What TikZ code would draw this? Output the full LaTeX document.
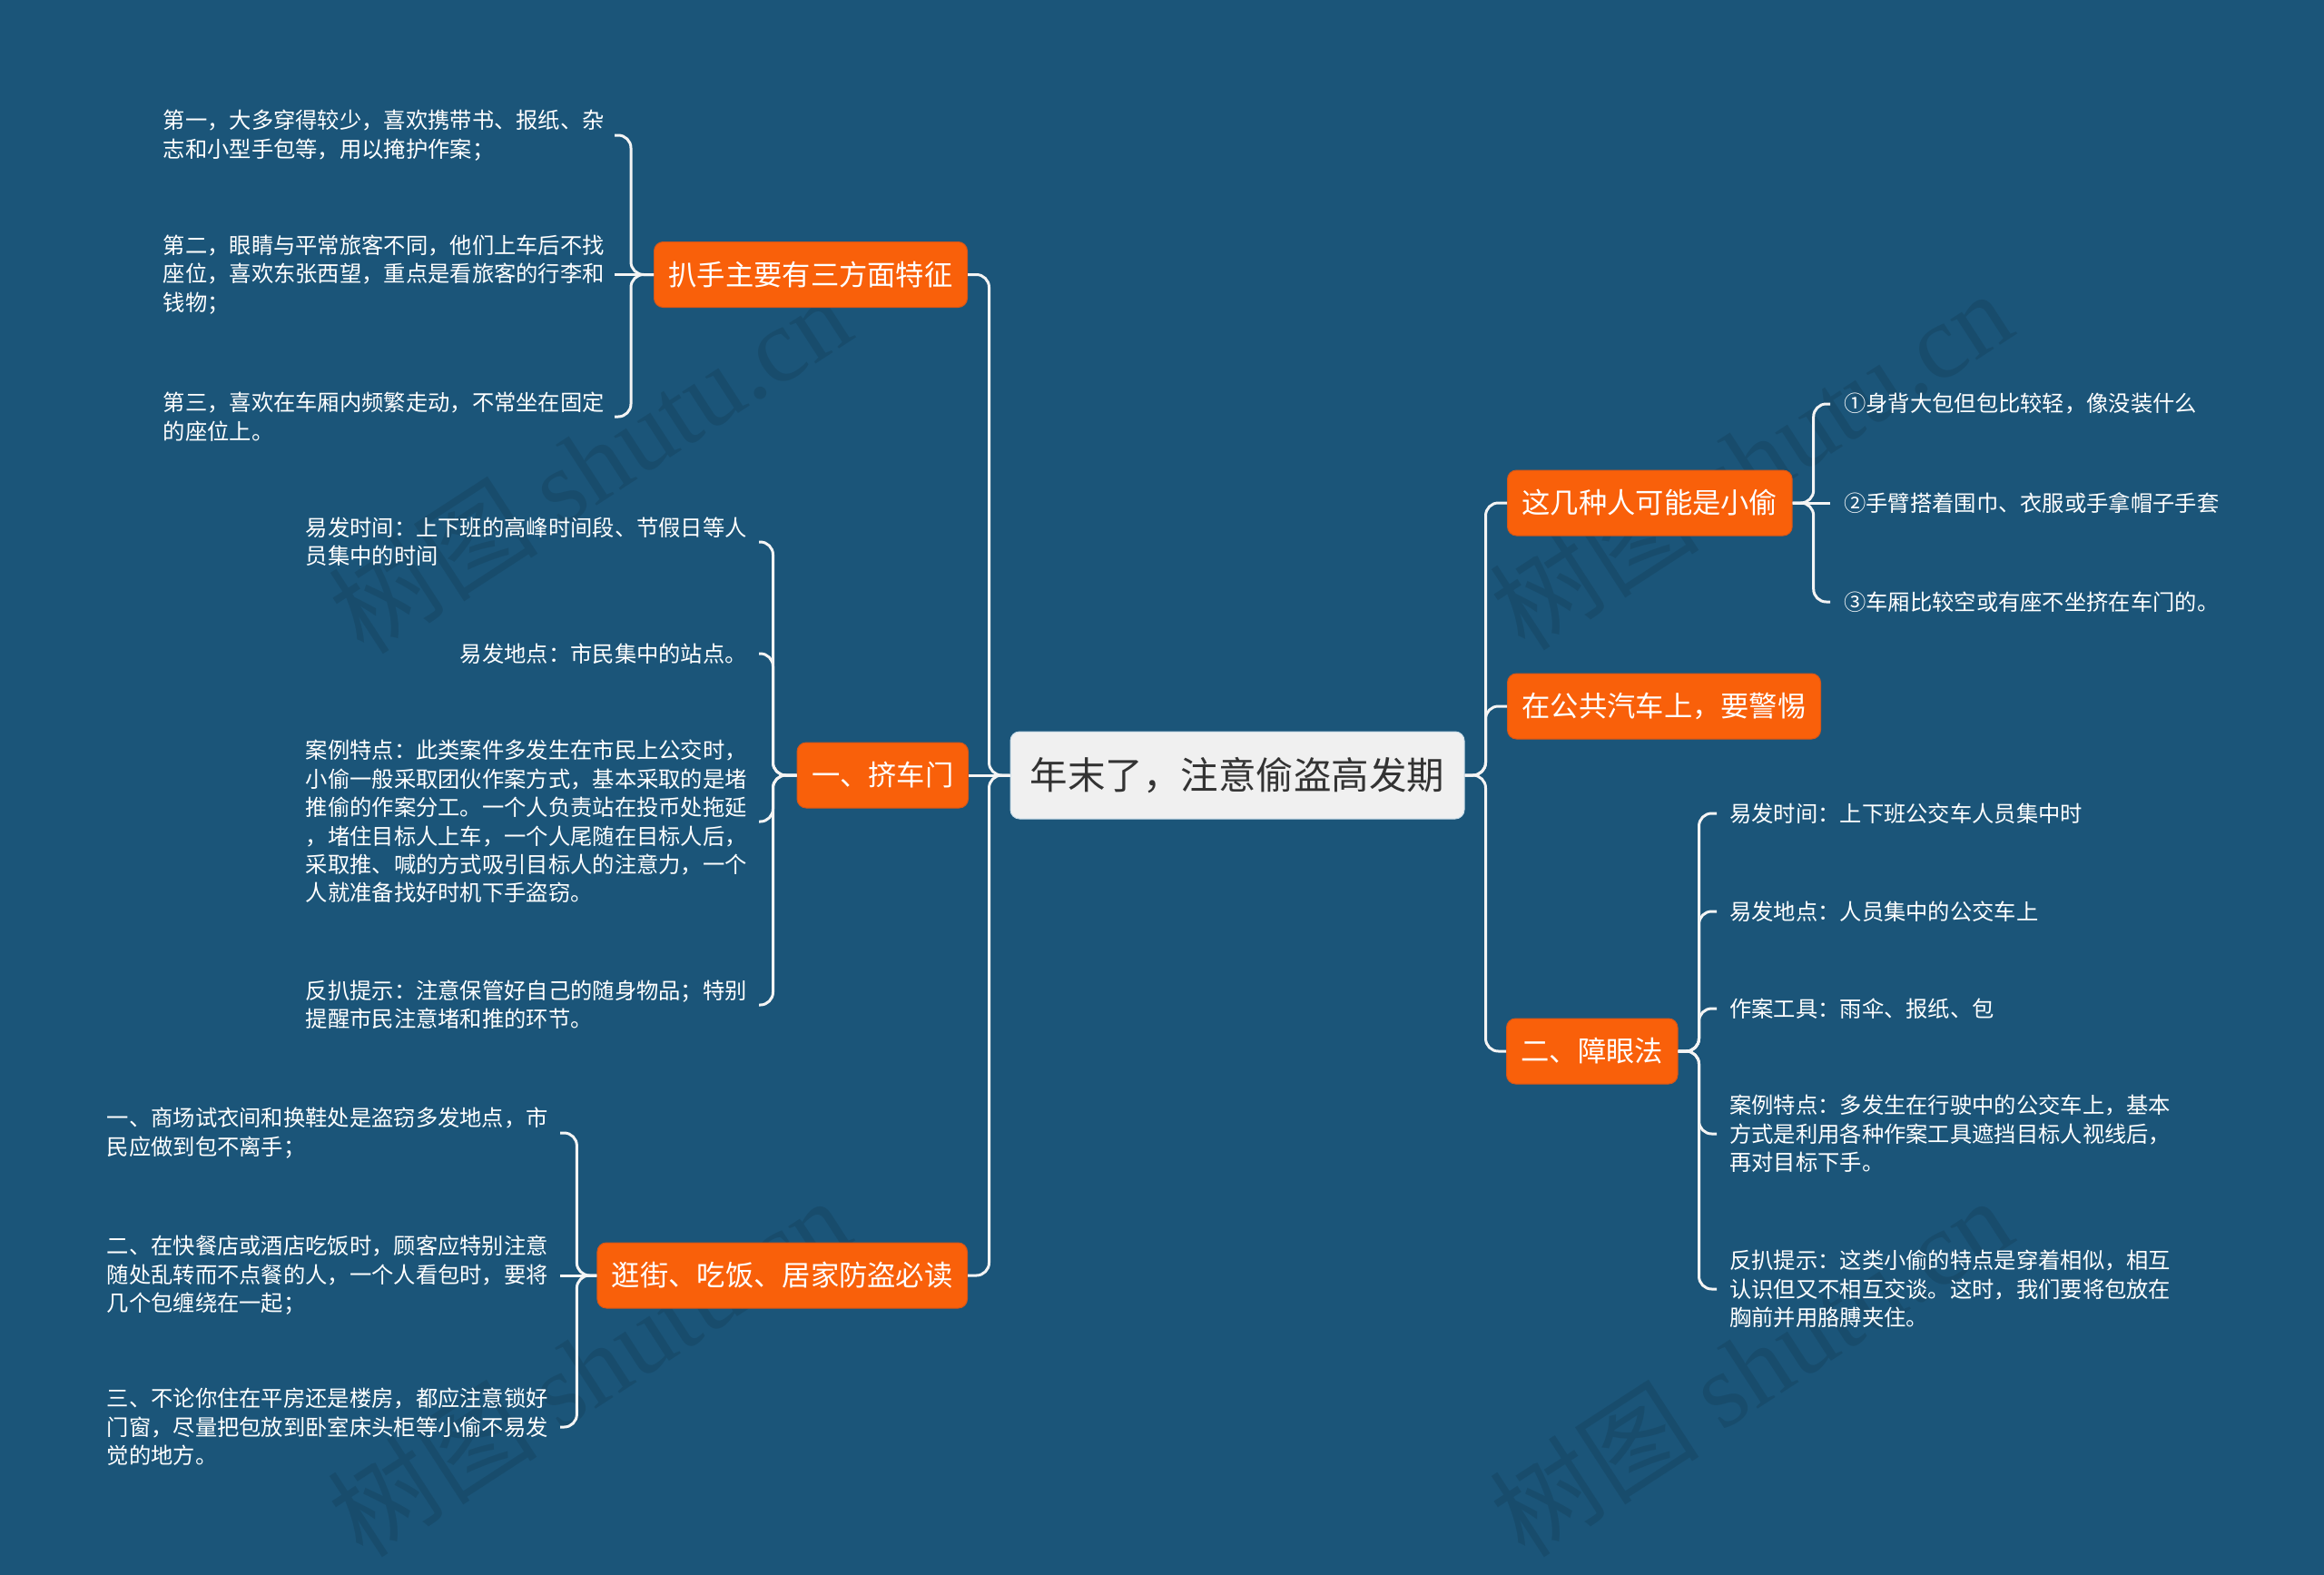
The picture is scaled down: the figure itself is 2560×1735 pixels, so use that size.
\documentclass[tikz,border=0pt]{standalone}
\usepackage{fontspec}
\setmainfont{Noto Sans CJK SC}
\newfontfamily\wmfont{Liberation Serif}
\definecolor{bg}{RGB}{27,85,121}
\definecolor{org}{RGB}{249,96,10}
\definecolor{orgedge}{RGB}{214,86,24}
\definecolor{rootfill}{RGB}{240,240,240}
\definecolor{roottext}{RGB}{51,51,51}
\definecolor{linec}{RGB}{244,244,244}
\begin{document}
\begin{tikzpicture}[x=1pt,y=-1pt,
  conn/.style={draw=linec,line width=3pt,rounded corners=14pt},
  rootbox/.style={fill=rootfill,text=roottext,draw={rgb,255:red,200;green,220;blue,232},line width=1pt,rounded corners=10pt,minimum width=500pt,minimum height=96pt,font=\fontsize{41.5}{48}\selectfont},
  topic/.style={fill=org,draw=orgedge,line width=1pt,text=white,rounded corners=10pt,minimum height=72pt,inner xsep=16pt,font=\fontsize{31.3}{36}\selectfont},
  leaf/.style={text=white,align=left,inner sep=0pt,font=\fontsize{24.3}{31.4}\selectfont},
  wm/.style={text=black,opacity=0.1,rotate=33,font=\fontsize{116}{124}\selectfont}
]
\fill[bg] (0,0) rectangle (2560,1735);
\useasboundingbox (0,0) rectangle (2560,1735);

% watermarks
\node[wm] (wm1) at (649,510) {树图 {\wmfont shutu.cn}};
\node[wm] (wm2) at (1928,506) {树图 {\wmfont shutu.cn}};
\node[wm] (wm3) at (648,1505) {树图 {\wmfont shutu.cn}};
\node[wm] (wm4) at (1928,1505) {树图 {\wmfont shutu.cn}};

% root and topics
\node[rootbox] (root) at (1363,854) {年末了，注意偷盗高发期};
\node[topic,anchor=east] (t1) at (1066,302.5) {扒手主要有三方面特征};
\node[topic,anchor=east] (t2) at (1067,854) {一、挤车门};
\node[topic,anchor=east] (t3) at (1066,1405) {逛街、吃饭、居家防盗必读};
\node[topic,anchor=west] (t4) at (1660,554) {这几种人可能是小偷};
\node[topic,anchor=west] (t5) at (1660,778) {在公共汽车上，要警惕};
\node[topic,anchor=west] (t6) at (1659,1158) {二、障眼法};

% leaves group A
\node[leaf,anchor=east] (a1) at (666,149) {第一，大多穿得较少，喜欢携带书、报纸、杂\\志和小型手包等，用以掩护作案；};
\node[leaf,anchor=east] (a2) at (666,302.5) {第二，眼睛与平常旅客不同，他们上车后不找\\座位，喜欢东张西望，重点是看旅客的行李和\\钱物；};
\node[leaf,anchor=east] (a3) at (666,459) {第三，喜欢在车厢内频繁走动，不常坐在固定\\的座位上。};

% leaves group B
\node[leaf,anchor=east] (b1) at (823,597) {易发时间：上下班的高峰时间段、节假日等人\\员集中的时间};
\node[leaf,anchor=east] (b2) at (823,720) {易发地点：市民集中的站点。};
\node[leaf,anchor=east] (b3) at (823,905) {案例特点：此类案件多发生在市民上公交时，\\小偷一般采取团伙作案方式，基本采取的是堵\\推偷的作案分工。一个人负责站在投币处拖延\\，堵住目标人上车，一个人尾随在目标人后，\\采取推、喊的方式吸引目标人的注意力，一个\\人就准备找好时机下手盗窃。};
\node[leaf,anchor=east] (b4) at (823,1107) {反扒提示：注意保管好自己的随身物品；特别\\提醒市民注意堵和推的环节。};

% leaves group C
\node[leaf,anchor=east] (c1) at (604,1248) {一、商场试衣间和换鞋处是盗窃多发地点，市\\民应做到包不离手；};
\node[leaf,anchor=east] (c2) at (604,1405) {二、在快餐店或酒店吃饭时，顾客应特别注意\\随处乱转而不点餐的人，一个人看包时，要将\\几个包缠绕在一起；};
\node[leaf,anchor=east] (c3) at (604,1572) {三、不论你住在平房还是楼房，都应注意锁好\\门窗，尽量把包放到卧室床头柜等小偷不易发\\觉的地方。};

% leaves group D
\node[leaf,anchor=west] (d1) at (2031,445) {①身背大包但包比较轻，像没装什么};
\node[leaf,anchor=west] (d2) at (2031,554) {②手臂搭着围巾、衣服或手拿帽子手套};
\node[leaf,anchor=west] (d3) at (2031,663) {③车厢比较空或有座不坐挤在车门的。};

% leaves group F
\node[leaf,anchor=west] (f1) at (1905,896) {易发时间：上下班公交车人员集中时};
\node[leaf,anchor=west] (f2) at (1905,1004) {易发地点：人员集中的公交车上};
\node[leaf,anchor=west] (f3) at (1905,1111) {作案工具：雨伞、报纸、包};
\node[leaf,anchor=west] (f4) at (1905,1249) {案例特点：多发生在行驶中的公交车上，基本\\方式是利用各种作案工具遮挡目标人视线后，\\再对目标下手。};
\node[leaf,anchor=west] (f5) at (1905,1420) {反扒提示：这类小偷的特点是穿着相似，相互\\认识但又不相互交谈。这时，我们要将包放在\\胸前并用胳膊夹住。};

% root connectors
\draw[conn] (root.west) -- ++(-23,0) |- (t1.east);
\draw[conn] (root.west) -- (t2.east);
\draw[conn] (root.west) -- ++(-23,0) |- (t3.east);
\draw[conn] (root.east) -- ++(23,0) |- (t4.west);
\draw[conn] (root.east) -- ++(23,0) |- (t5.west);
\draw[conn] (root.east) -- ++(23,0) |- (t6.west);

% group A connectors
\draw[conn] (t1.west) -- ++(-25,0) |- ([xshift=11pt]a1.east);
\draw[conn] (t1.west) -- ([xshift=11pt]a2.east);
\draw[conn] (t1.west) -- ++(-25,0) |- ([xshift=11pt]a3.east);

% group B connectors
\draw[conn] (t2.west) -- ++(-26,0) |- ([xshift=13pt]b1.east);
\draw[conn] (t2.west) -- ++(-26,0) |- ([xshift=13pt]b2.east);
\draw[conn] (t2.west) -- ++(-26,0) |- ([xshift=13pt]b3.east);
\draw[conn] (t2.west) -- ++(-26,0) |- ([xshift=13pt]b4.east);

% group C connectors
\draw[conn] (t3.west) -- ++(-22,0) |- ([xshift=13pt]c1.east);
\draw[conn] (t3.west) -- ([xshift=13pt]c2.east);
\draw[conn] (t3.west) -- ++(-22,0) |- ([xshift=13pt]c3.east);

% group D connectors
\draw[conn] (t4.east) -- ++(23,0) |- ([xshift=-15pt]d1.west);
\draw[conn] (t4.east) -- ([xshift=-15pt]d2.west);
\draw[conn] (t4.east) -- ++(23,0) |- ([xshift=-15pt]d3.west);

% group F connectors
\draw[conn] (t6.east) -- ++(23,0) |- ([xshift=-14pt]f1.west);
\draw[conn] (t6.east) -- ++(23,0) |- ([xshift=-14pt]f2.west);
\draw[conn] (t6.east) -- ++(23,0) |- ([xshift=-14pt]f3.west);
\draw[conn] (t6.east) -- ++(23,0) |- ([xshift=-14pt]f4.west);
\draw[conn] (t6.east) -- ++(23,0) |- ([xshift=-14pt]f5.west);
\end{tikzpicture}
\end{document}
